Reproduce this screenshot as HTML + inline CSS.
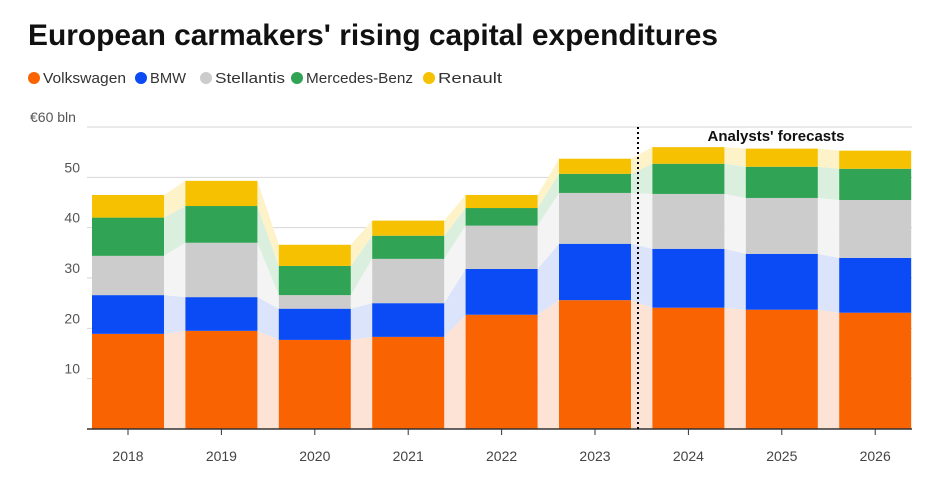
<!DOCTYPE html>
<html><head><meta charset="utf-8"><style>
body{margin:0;background:#fff;font-family:"Liberation Sans",sans-serif;overflow:hidden;}
</style></head><body>
<svg width="938" height="475" xmlns="http://www.w3.org/2000/svg">
<text x="28" y="45" font-size="30" font-weight="bold" fill="#111" textLength="690" lengthAdjust="spacingAndGlyphs">European carmakers' rising capital expenditures</text>
<g id="legend"></g>
<g id="grid"></g>
<g id="bands"></g>
<g id="bars"></g>
<g id="axis"></g>
<line x1="638" x2="638" y1="127" y2="429" stroke="#000" stroke-width="2" stroke-dasharray="2,3"/>
<text x="776" y="141" font-size="15" font-weight="bold" text-anchor="middle" fill="#111">Analysts' forecasts</text>
</svg>
<script>
const years=["2018","2019","2020","2021","2022","2023","2024","2025","2026"];
const seriesNames=["Volkswagen","BMW","Stellantis","Mercedes-Benz","Renault"];
const volkswagen=[18.9,19.5,17.7,18.3,22.7,25.6,24.1,23.7,23.1];
const bmw=[7.7,6.7,6.2,6.7,9.1,11.2,11.7,11.1,10.9];
const stellantis=[7.8,10.8,2.7,8.8,8.6,10.1,10.9,11.1,11.5];
const mercedes=[7.6,7.3,5.8,4.6,3.5,3.8,6.0,6.2,6.2];
const renault=[4.5,5.0,4.2,3.0,2.6,3.0,3.3,3.6,3.6];
const yTicks=[0,10,20,30,40,50,60];
const colors=["#f96302","#0b4bf5","#cccccc","#30a354","#f5c100"];
const light=["#fde3d5","#dbe4fb","#f4f4f4","#dbefdf","#fdf2c8"];
const series=[volkswagen,bmw,stellantis,mercedes,renault];
const NS="http://www.w3.org/2000/svg";
const y0=429,y1=127,yMax=60;
const y=v=>y0-(v/yMax)*(y0-y1);
const x0=128,step=93.4,bw=72;
const xc=i=>x0+i*step;
function mk(t,a,p){const e=document.createElementNS(NS,t);for(const k in a)e.setAttribute(k,a[k]);p.appendChild(e);return e;}
const grid=document.getElementById('grid');
yTicks.forEach(t=>{
 if(t>0){const l=mk('line',{x1:87,x2:912,y1:y(t),y2:y(t),stroke:'#d6d6d6','stroke-width':1},grid);
 
 }
 if(t>0){const tx=mk('text',{x:t===60?30:80,y:y(t)-5,'font-size':14,fill:'#555','text-anchor':t===60?'start':'end'},grid);
 tx.textContent=t===60?'€60 bln':t;
 
 }
});
const cum=years.map((_,i)=>{let s=0;return series.map(a=>{const b=s;s+=a[i];return [b,s];});});
const bands=document.getElementById('bands');
for(let i=0;i<years.length-1;i++){
 series.forEach((a,k)=>{
  const r=xc(i)+bw/2,l=xc(i+1)-bw/2;
  const [b0,t0]=cum[i][k],[b1,t1]=cum[i+1][k];
  const p=mk('polygon',{points:`${r},${y(t0)} ${l},${y(t1)} ${l},${y(b1)} ${r},${y(b0)}`,fill:light[k]},bands);
  
  
 });
}
const bars=document.getElementById('bars');
years.forEach((yr,i)=>{
 series.forEach((a,k)=>{
  const [b,t]=cum[i][k];
  const r=mk('rect',{x:xc(i)-bw/2,y:y(t),width:bw,height:y(b)-y(t),fill:colors[k]},bars);
  
  
 });
});
const axis=document.getElementById('axis');
mk('line',{x1:87,x2:912,y1:y0,y2:y0,stroke:'#333','stroke-width':1.5},axis);
years.forEach((yr,i)=>{
 mk('line',{x1:xc(i),x2:xc(i),y1:y0,y2:y0+6,stroke:'#333'},axis);
 const t=mk('text',{x:xc(i),y:461,'font-size':14,fill:'#444','text-anchor':'middle'},axis);
 t.textContent=yr;
 
 
});
const lg=document.getElementById('legend');
const lxs=[28,135,200,291,423];
const tw=[83,36,70,107,64];
seriesNames.forEach((n,k)=>{
 const lx=lxs[k];
 const c=mk('circle',{cx:lx+6,cy:78,r:6,fill:colors[k]},lg);
 
 
 const t=mk('text',{x:lx+15,y:83,'font-size':15,fill:'#333',textLength:tw[k],lengthAdjust:'spacingAndGlyphs'},lg);
 t.textContent=n;
 
 
});
</script>
</body></html>
